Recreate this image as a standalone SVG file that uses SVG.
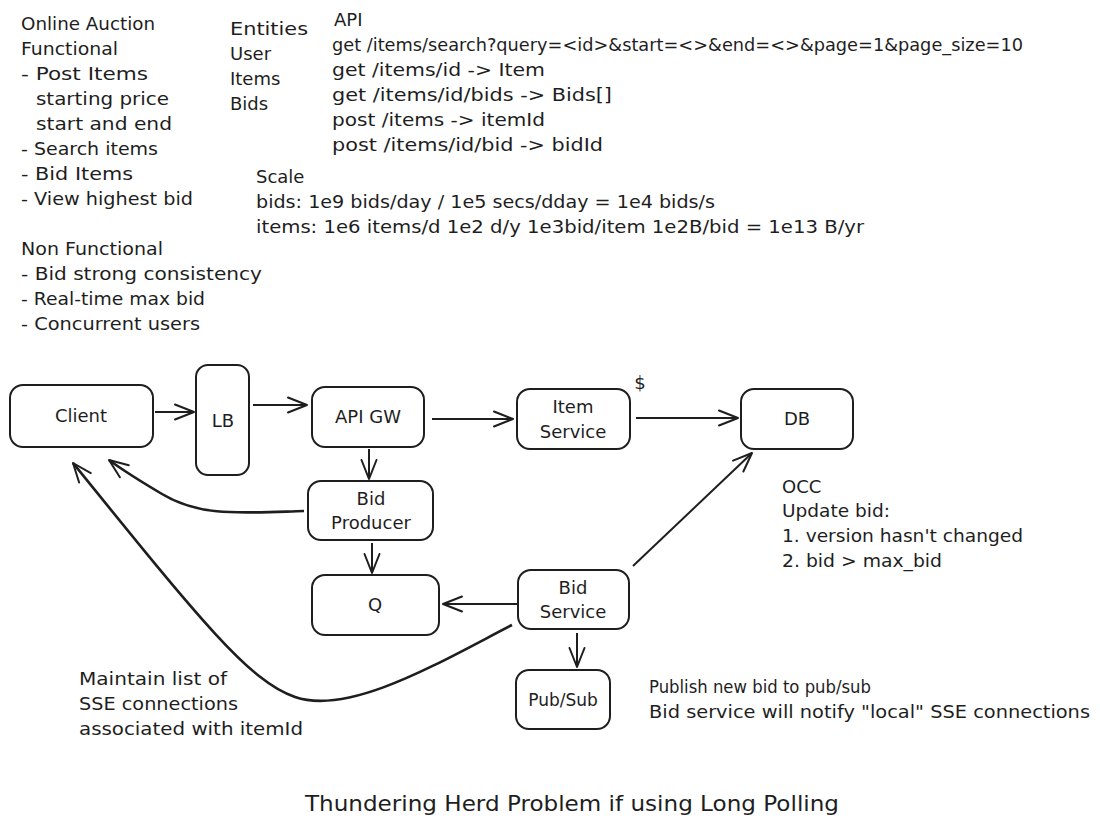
<svg xmlns="http://www.w3.org/2000/svg" width="1100" height="832" viewBox="0 0 1100 832">
<defs>
<style>
.t{font-family:"DejaVu Sans","Liberation Sans",sans-serif;font-size:18px;fill:#1e1e1e}
.c{text-anchor:middle}
.n{fill:#fff;stroke:#1e1e1e;stroke-width:2}
.e{fill:none;stroke:#1e1e1e;stroke-width:2;marker-end:url(#arr)}
.k{stroke-width:2.6}
</style>
<marker id="arr" viewBox="-22 -12 26 24" refX="0" refY="0" markerWidth="26" markerHeight="24" markerUnits="userSpaceOnUse" orient="auto">
<path d="M-19,-7.5 L0,0 L-19,7.5" fill="none" stroke="#1e1e1e" stroke-width="2" stroke-linecap="round" stroke-linejoin="round"/>
</marker>
</defs>
<rect width="1100" height="832" fill="#fff"/>

<g id="notes">
<text class="t" x="21" y="30" textLength="134" lengthAdjust="spacingAndGlyphs">Online Auction</text>
<text class="t" x="21" y="55" textLength="97" lengthAdjust="spacingAndGlyphs">Functional</text>
<text class="t" x="21" y="80" textLength="127" lengthAdjust="spacingAndGlyphs">- Post Items</text>
<text class="t" x="36" y="105" textLength="133" lengthAdjust="spacingAndGlyphs">starting price</text>
<text class="t" x="36" y="130" textLength="136" lengthAdjust="spacingAndGlyphs">start and end</text>
<text class="t" x="21" y="155" textLength="137" lengthAdjust="spacingAndGlyphs">- Search items</text>
<text class="t" x="21" y="180" textLength="112" lengthAdjust="spacingAndGlyphs">- Bid Items</text>
<text class="t" x="21" y="205" textLength="172" lengthAdjust="spacingAndGlyphs">- View highest bid</text>
<text class="t" x="21" y="255" textLength="142" lengthAdjust="spacingAndGlyphs">Non Functional</text>
<text class="t" x="21" y="280" textLength="241" lengthAdjust="spacingAndGlyphs">- Bid strong consistency</text>
<text class="t" x="21" y="305" textLength="184" lengthAdjust="spacingAndGlyphs">- Real-time max bid</text>
<text class="t" x="21" y="330" textLength="179" lengthAdjust="spacingAndGlyphs">- Concurrent users</text>

<text class="t" x="230" y="35" textLength="78" lengthAdjust="spacingAndGlyphs">Entities</text>
<text class="t" x="230" y="60">User</text>
<text class="t" x="230" y="85">Items</text>
<text class="t" x="230" y="110">Bids</text>

<text class="t" x="334" y="26">API</text>
<text class="t" x="332" y="51" textLength="691" lengthAdjust="spacingAndGlyphs">get /items/search?query=&lt;id&gt;&amp;start=&lt;&gt;&amp;end=&lt;&gt;&amp;page=1&amp;page_size=10</text>
<text class="t" x="332" y="76" textLength="213" lengthAdjust="spacingAndGlyphs">get /items/id -&gt; Item</text>
<text class="t" x="332" y="101" textLength="280" lengthAdjust="spacingAndGlyphs">get /items/id/bids -&gt; Bids[]</text>
<text class="t" x="332" y="126" textLength="213" lengthAdjust="spacingAndGlyphs">post /items -&gt; itemId</text>
<text class="t" x="332" y="151" textLength="271" lengthAdjust="spacingAndGlyphs">post /items/id/bid -&gt; bidId</text>

<text class="t" x="256" y="183">Scale</text>
<text class="t" x="256" y="208" textLength="459" lengthAdjust="spacingAndGlyphs">bids: 1e9 bids/day / 1e5 secs/dday = 1e4 bids/s</text>
<text class="t" x="256" y="233" textLength="608" lengthAdjust="spacingAndGlyphs">items: 1e6 items/d 1e2 d/y 1e3bid/item 1e2B/bid = 1e13 B/yr</text>

<text class="t c" x="640" y="389">$</text>

<text class="t" x="782" y="493">OCC</text>
<text class="t" x="782" y="517" textLength="108" lengthAdjust="spacingAndGlyphs">Update bid:</text>
<text class="t" x="782" y="542" textLength="241" lengthAdjust="spacingAndGlyphs">1. version hasn't changed</text>
<text class="t" x="782" y="567" textLength="160" lengthAdjust="spacingAndGlyphs">2. bid &gt; max_bid</text>

<text class="t" x="79" y="685" textLength="148" lengthAdjust="spacingAndGlyphs">Maintain list of</text>
<text class="t" x="79" y="710" textLength="159" lengthAdjust="spacingAndGlyphs">SSE connections</text>
<text class="t" x="79" y="735" textLength="224" lengthAdjust="spacingAndGlyphs">associated with itemId</text>

<text class="t" x="649" y="693" textLength="222" lengthAdjust="spacingAndGlyphs">Publish new bid to pub/sub</text>
<text class="t" x="649" y="718" textLength="441" lengthAdjust="spacingAndGlyphs">Bid service will notify "local" SSE connections</text>

<text class="t" x="305" y="811" style="font-size:22px" textLength="534" lengthAdjust="spacingAndGlyphs">Thundering Herd Problem if using Long Polling</text>
</g>

<g id="connectors">
<path class="e" d="M155,412 L194,412"/>
<path class="e" d="M253,405 L307,405"/>
<path class="e" d="M432,419 L513,419"/>
<path class="e" d="M636,418 L738,418"/>
<path class="e" d="M369,449 L369,479"/>
<path class="e" d="M372,543 L372,573"/>
<path class="e" d="M517,604 L443,604"/>
<path class="e" d="M633,566 L752,453"/>
<path class="e" d="M577,633 L577,667"/>
<path class="e k" d="M304,511 C240,513 200,517 162,494 C140,481 124,471 109,460"/>
<path class="e k" d="M512,625 C440,662 350,716 295,697 C250,682 200,620 73,463"/>
</g>

<g id="client"><rect class="n" x="10" y="385" width="143" height="62" rx="13"/><text class="t c" x="81" y="422">Client</text></g>
<g id="lb"><rect class="n" x="196" y="365" width="53" height="110" rx="12"/><text class="t c" x="223" y="427">LB</text></g>
<g id="apigw"><rect class="n" x="312" y="387" width="112" height="60" rx="13"/><text class="t c" x="368" y="423">API GW</text></g>
<g id="itemservice"><rect class="n" x="517" y="389" width="113" height="60" rx="13"/><text class="t c" x="573" y="413">Item</text><text class="t c" x="573" y="438">Service</text></g>
<g id="db"><rect class="n" x="741" y="389" width="112" height="60" rx="13"/><text class="t c" x="797" y="425">DB</text></g>
<g id="bidproducer"><rect class="n" x="308" y="481" width="125" height="59" rx="13"/><text class="t c" x="371" y="505">Bid</text><text class="t c" x="371" y="529">Producer</text></g>
<g id="q"><rect class="n" x="312" y="575" width="127" height="60" rx="13"/><text class="t c" x="375" y="611">Q</text></g>
<g id="bidservice"><rect class="n" x="518" y="570" width="111" height="59" rx="13"/><text class="t c" x="573" y="594">Bid</text><text class="t c" x="573" y="618">Service</text></g>
<g id="pubsub"><rect class="n" x="516" y="670" width="94" height="59" rx="13"/><text class="t c" x="563" y="706" style="font-size:17px">Pub/Sub</text></g>
</svg>
